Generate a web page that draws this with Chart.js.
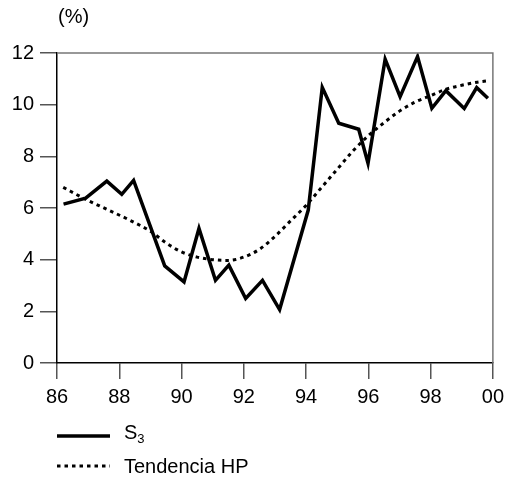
<html>
  <head>
    <script src="https://cdn.jsdelivr.net/npm/chart.js@4/dist/chart.umd.min.js"></script>
    <style>
      body { margin: 0; background: #fff; font-family: "Liberation Sans", Arial, sans-serif; }
      #wrap { position: relative; width: 510px; height: 479px; }
      .txt { position: absolute; font-size: 20px; line-height: 23px; color: #000; white-space: nowrap; }
      .txt sub { font-size: 13px; vertical-align: -4px; line-height: 0; }
      svg { position: absolute; }
    </style>
  </head>
  <body>
    <div id="wrap">
      <canvas id="myChart" width="510" height="479"></canvas>
      <div class="txt" style="left:58px; top:5px">(%)</div>
      <svg style="left:57px; top:429px" width="54" height="14">
        <line x1="0" y1="7" x2="53" y2="7" stroke="#000" stroke-width="3.5" />
      </svg>
      <div class="txt" style="left:124px; top:421px">S<sub>3</sub></div>
      <svg style="left:57px; top:459px" width="54" height="14">
        <line x1="0" y1="7" x2="53" y2="7" stroke="#000" stroke-width="3" stroke-dasharray="3.5 4" />
      </svg>
      <div class="txt" style="left:124px; top:455px">Tendencia HP</div>
    </div>
    <script>
      // S3 series (year, %)
      const s3Years = [86.21, 86.92, 87.6, 88.08, 88.46, 89.46, 90.08, 90.56, 91.09, 91.52,
        92.06, 92.6, 93.15, 94.07, 94.52, 95.05, 95.69, 95.99, 96.54, 97.02,
        97.58, 98.04, 98.49, 99.08, 99.48, 99.84];
      const s3Values = [6.15, 6.38, 7.04, 6.53, 7.07, 3.76, 3.14, 5.21, 3.2, 3.79,
        2.5, 3.2, 2.07, 5.92, 10.67, 9.28, 9.05, 7.73, 11.76, 10.31,
        11.86, 9.86, 10.54, 9.85, 10.66, 10.25];

      // HP trend
      const hpYears = [86.2, 86.9, 87.6, 88.3, 89.0, 89.5, 90.0, 90.5, 91.0, 91.5,
        92.0, 92.5, 93.0, 93.5, 94.0, 94.5, 95.0, 95.5, 96.0, 96.5,
        97.0, 97.5, 98.0, 98.5, 99.0, 99.5, 99.9];
      const hpValues = [6.8, 6.35, 5.95, 5.55, 5.1, 4.65, 4.3, 4.1, 4.0, 3.97,
        4.1, 4.4, 4.9, 5.5, 6.1, 6.8, 7.5, 8.2, 8.8, 9.3,
        9.75, 10.1, 10.35, 10.6, 10.75, 10.87, 10.93];

      const xTicks = [86, 88, 90, 92, 94, 96, 98, 100];
      const xTickLabels = ["86", "88", "90", "92", "94", "96", "98", "00"];
      const yTicks = [0, 2, 4, 6, 8, 10, 12];

      const toXY = (xs, ys) => xs.map((x, i) => ({ x: x, y: ys[i] }));

      const frame = {
        id: "frame",
        afterDraw(chart) {
          const a = chart.chartArea;
          const ctx = chart.ctx;
          ctx.save();
          ctx.strokeStyle = "#777";
          ctx.lineWidth = 1.5;
          ctx.beginPath();
          ctx.moveTo(a.left, a.top);
          ctx.lineTo(a.right, a.top);
          ctx.lineTo(a.right, a.bottom);
          ctx.stroke();
          ctx.restore();
        }
      };

      Chart.defaults.font.family = '"Liberation Sans", Arial, sans-serif';
      Chart.defaults.font.size = 20;
      Chart.defaults.color = "#000";

      const ctx = document.getElementById("myChart").getContext("2d");
      const chart = new Chart(ctx, {
        type: "line",
        data: {
          datasets: [
            {
              label: "S3",
              data: toXY(s3Years, s3Values),
              borderColor: "#000",
              borderWidth: 3.5,
              pointRadius: 0,
              tension: 0,
              fill: false
            },
            {
              label: "Tendencia HP",
              data: toXY(hpYears, hpValues),
              borderColor: "#000",
              borderWidth: 3,
              borderDash: [3.5, 4],
              borderCapStyle: "butt",
              pointRadius: 0,
              cubicInterpolationMode: "monotone",
              fill: false
            }
          ]
        },
        options: {
          responsive: false,
          animation: false,
          layout: { padding: { top: 53, right: 14, left: 0, bottom: 0 } },
          plugins: { legend: { display: false }, tooltip: { enabled: false } },
          scales: {
            x: {
              type: "linear",
              min: 86,
              max: 100,
              afterBuildTicks: s => { s.ticks = xTicks.map(v => ({ value: v })); },
              afterFit: s => { s.height = 116; },
              ticks: {
                padding: 6,
                maxRotation: 0,
                callback: (v) => xTickLabels[xTicks.indexOf(v)]
              },
              grid: { drawOnChartArea: false, tickLength: 16, color: "#555", lineWidth: 1.5 },
              border: { color: "#000", width: 1.5 }
            },
            y: {
              min: 0,
              max: 12,
              afterBuildTicks: s => { s.ticks = yTicks.map(v => ({ value: v })); },
              afterFit: s => { s.width = 57; },
              ticks: { padding: 6 },
              grid: { drawOnChartArea: false, tickLength: 17, color: "#555", lineWidth: 1.5 },
              border: { color: "#000", width: 1.5 }
            }
          }
        },
        plugins: [frame]
      });
    </script>
  </body>
</html>
